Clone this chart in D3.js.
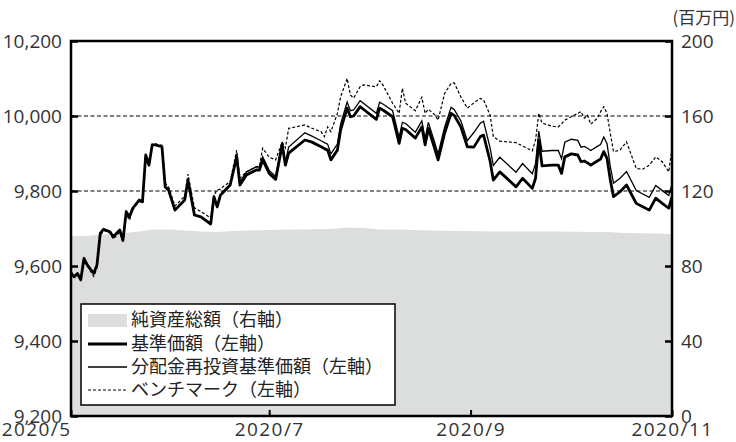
<!DOCTYPE html>
<html>
<head>
<meta charset="utf-8">
<script src="https://cdn.jsdelivr.net/npm/d3@7"></script>
<style>
  body { margin: 0; background: #fff; }
  svg { display: block; }
  .tick text { font-family: "Open Sans", sans-serif; font-size: 19px; fill: #333; }
  .xaxis .tick text { letter-spacing: 1.4px; }
</style>
</head>
<body>
<div id="chart"></div>
<script>
// dates of the price points
const dates = [
  "2020-05-01","2020-05-02","2020-05-03","2020-05-04","2020-05-05","2020-05-06","2020-05-08","2020-05-09","2020-05-10","2020-05-11",
  "2020-05-13","2020-05-14","2020-05-16","2020-05-17","2020-05-18","2020-05-19","2020-05-20","2020-05-22","2020-05-23","2020-05-24",
  "2020-05-25","2020-05-26","2020-05-27","2020-05-29","2020-05-30","2020-05-31","2020-06-02","2020-06-05","2020-06-06","2020-06-08",
  "2020-06-10","2020-06-13","2020-06-14","2020-06-15","2020-06-16","2020-06-17","2020-06-19","2020-06-21","2020-06-22","2020-06-24",
  "2020-06-27","2020-06-28","2020-06-29","2020-07-01","2020-07-03","2020-07-05","2020-07-06","2020-07-07","2020-07-12","2020-07-14",
  "2020-07-17","2020-07-18","2020-07-19","2020-07-20","2020-07-22","2020-07-23","2020-07-25","2020-07-26","2020-07-27","2020-07-29",
  "2020-07-30","2020-08-03","2020-08-04","2020-08-05","2020-08-08","2020-08-10","2020-08-11","2020-08-12","2020-08-15","2020-08-17",
  "2020-08-18","2020-08-19","2020-08-21","2020-08-22","2020-08-24","2020-08-26","2020-08-27","2020-08-29","2020-08-31","2020-09-02",
  "2020-09-04","2020-09-05","2020-09-07","2020-09-08","2020-09-10","2020-09-15","2020-09-17","2020-09-20","2020-09-21","2020-09-22",
  "2020-09-23","2020-09-26","2020-09-28","2020-09-29","2020-09-30","2020-10-02","2020-10-04","2020-10-05","2020-10-06","2020-10-07",
  "2020-10-08","2020-10-10","2020-10-11","2020-10-12","2020-10-13","2020-10-14","2020-10-15","2020-10-17","2020-10-19","2020-10-22",
  "2020-10-24","2020-10-26","2020-10-28","2020-10-30","2020-11-01","2020-11-02"
];
// 基準価額 (left axis)
const navValues = [
  9580,9571,9580,9563,9620,9603,9580,9603,9687,9698,
  9691,9678,9696,9669,9745,9731,9754,9776,9771,9896,
  9869,9923,9923,9918,9811,9803,9749,9776,9829,9736,
  9731,9712,9785,9758,9789,9798,9816,9891,9816,9843,
  9856,9856,9883,9847,9831,9923,9869,9901,9936,9931,
  9918,9913,9909,9883,9909,9963,10021,9998,10000,10025,
  10018,9991,10021,10016,9998,9927,9967,9964,9941,9971,
  9923,9967,9912,9883,9954,10007,10001,9971,9918,9917,
  9945,9949,9880,9829,9851,9811,9834,9807,9834,9935,
  9867,9869,9869,9847,9891,9899,9896,9878,9880,9875,
  9869,9880,9885,9905,9887,9830,9785,9798,9816,9767,
  9758,9749,9781,9767,9754,9784
];
// 分配金再投資基準価額 (left axis)
const reinvValues = [
  9580,9571,9580,9563,9620,9603,9580,9603,9687,9698,
  9691,9678,9696,9669,9745,9731,9754,9776,9771,9896,
  9869,9923,9923,9918,9811,9803,9749,9776,9829,9736,
  9731,9712,9785,9758,9789,9798,9816,9899,9824,9851,
  9864,9864,9891,9855,9839,9931,9877,9917,9955,9947,
  9934,9929,9925,9899,9925,9979,10037,10014,10016,10041,
  10034,10007,10037,10032,10014,9943,9983,9980,9957,9987,
  9939,9983,9928,9899,9970,10023,10017,9987,9934,9956,
  9981,9986,9915,9868,9890,9850,9873,9846,9873,9960,
  9906,9908,9908,9886,9930,9938,9935,9917,9919,9914,
  9908,9919,9924,9944,9926,9866,9821,9834,9852,9801,
  9792,9783,9815,9801,9788,9818
];
// ベンチマーク (left axis)
const benchValues = [
  9585,9575,9582,9568,9615,9600,9572,9595,9680,9695,
  9688,9672,9690,9662,9738,9722,9750,9772,9768,9890,
  9866,9925,9926,9922,9820,9812,9760,9786,9845,9755,
  9745,9728,9789,9803,9805,9813,9825,9909,9834,9851,
  9865,9866,9914,9890,9883,9931,9915,9967,9976,9968,
  9958,9945,9971,9958,10007,10051,10100,10056,10048,10078,
  10083,10078,10094,10083,10034,10007,10074,10034,10014,10050,
  10007,10018,10003,9989,10060,10087,10088,10051,10021,10035,
  10047,10043,10003,9945,9933,9929,9920,9907,9936,10007,
  9981,9973,9971,9979,9989,9998,10007,10012,9994,10002,
  9978,9994,10011,10025,10007,9954,9905,9909,9931,9860,
  9858,9869,9891,9878,9851,9914
];
// 純資産総額 (right axis, 百万円)
const assetDates = ["2020-05-01","2020-05-06","2020-05-11","2020-05-16","2020-05-21","2020-05-26","2020-05-31","2020-06-05","2020-06-10","2020-06-15",
  "2020-06-20","2020-06-25","2020-06-30","2020-07-10","2020-07-20","2020-07-25","2020-07-30","2020-08-04","2020-08-09","2020-08-19",
  "2020-08-29","2020-09-08","2020-09-18","2020-09-28","2020-10-08","2020-10-13","2020-10-18","2020-10-28","2020-11-02"];
const assetValues = [96.0,96.0,96.8,97.3,98.1,99.5,99.5,98.9,98.4,98.1,
  98.7,98.9,99.2,99.5,99.7,100.5,100.3,99.5,99.5,98.9,
  98.7,98.4,98.4,98.4,98.1,98.1,97.6,97.3,97.1];

const leftTicks = [9200, 9400, 9600, 9800, 10000, 10200];
const rightTicks = [0, 40, 80, 120, 160, 200];
const xTickDates = ["2020-05-01","2020-07-01","2020-09-01","2020-11-02"];
const xTickLabels = ["2020/5","2020/7","2020/9","2020/11"];
const legendLabels = ["純資産総額（右軸）","基準価額（左軸）","分配金再投資基準価額（左軸）","ベンチマーク（左軸）"];

var W = 736, H = 442;
var margin = {top:41, bottom:26, right:64, left:71};
var width = W - margin.left - margin.right;
var height = H - margin.top - margin.bottom;
var parse = d3.timeParse("%Y-%m-%d");

var svg = d3.select("#chart").append("svg")
  .attr("width", W).attr("height", H);
var g = svg.append("g")
  .attr("transform", "translate(" + margin.left + "," + margin.top + ")");

var x = d3.scaleTime()
  .domain([parse(dates[0]), parse(dates[dates.length-1])])
  .range([0, width]);
var yL = d3.scaleLinear().domain([9200, 10200]).range([height, 0]);
var yR = d3.scaleLinear().domain([0, 200]).range([height, 0]);

// gridlines
g.selectAll(".grid")
  .data(leftTicks.slice(1, -1))
  .enter().append("line")
  .attr("x1", 0).attr("x2", width)
  .attr("y1", d => yL(d)).attr("y2", d => yL(d))
  .style("stroke", "#555").style("stroke-width", 1.4)
  .style("stroke-dasharray", "4,2.5");

// net assets area
var assets = assetDates.map((d, i) => ({date: parse(d), v: assetValues[i]}));
g.append("path")
  .datum(assets)
  .attr("d", d3.area().x(d => x(d.date)).y0(height).y1(d => yR(d.v)))
  .style("fill", "#dcdddd");

var rows = dates.map((d, i) => ({date: parse(d), nav: navValues[i], re: reinvValues[i], bm: benchValues[i]}));
function line(key) {
  return d3.line().x(d => x(d.date)).y(d => yL(d[key]));
}
g.append("path").datum(rows).attr("d", line("bm"))
  .style("fill", "none").style("stroke", "#000").style("stroke-width", 1.2)
  .style("stroke-dasharray", "3,2");
g.append("path").datum(rows).attr("d", line("re"))
  .style("fill", "none").style("stroke", "#000").style("stroke-width", 1.3);
g.append("path").datum(rows).attr("d", line("nav"))
  .style("fill", "none").style("stroke", "#000").style("stroke-width", 2.8)
  .style("stroke-linejoin", "round");

// axes
g.append("g")
  .call(d3.axisLeft(yL).tickValues(leftTicks).tickSizeInner(-7).tickSizeOuter(0)
    .tickPadding(9).tickFormat(d3.format(",")))
  .call(a => a.select(".domain").remove())
  .call(a => a.selectAll(".tick line").style("stroke-width", 2.5));

g.append("g")
  .attr("transform", "translate(" + width + ",0)")
  .call(d3.axisRight(yR).tickValues(rightTicks).tickSizeInner(-7).tickSizeOuter(0).tickPadding(9))
  .call(a => a.select(".domain").remove())
  .call(a => a.selectAll(".tick line").style("stroke-width", 2.5));

var xAxis = g.append("g")
  .attr("class", "xaxis")
  .attr("transform", "translate(0," + height + ")")
  .call(d3.axisBottom(x).tickValues(xTickDates.map(parse)).tickSizeInner(-6).tickSizeOuter(0)
    .tickPadding(7).tickFormat((d, i) => xTickLabels[i]))
  .call(a => a.select(".domain").remove())
  .call(a => a.selectAll(".tick line").style("stroke-width", 2));
xAxis.selectAll(".tick text").filter((d, i) => i == 0)
  .attr("text-anchor", "end").attr("x", 0);

// frame
g.append("rect")
  .attr("width", width).attr("height", height)
  .style("fill", "none").style("stroke", "#000").style("stroke-width", 2.5);

svg.append("text")
  .attr("x", 735).attr("y", 24)
  .attr("text-anchor", "end")
  .style("font-family", "'Noto Sans CJK JP', sans-serif").style("font-size", "17px").style("fill", "#333")
  .text("(百万円)");

// legend
var lg = svg.append("g").attr("transform", "translate(81,304)");
lg.append("rect")
  .attr("width", 314).attr("height", 101)
  .style("fill", "#fff").style("stroke", "#000").style("stroke-width", 1.5);
var rowY = [16, 40, 63, 86];
lg.append("rect").attr("x", 7).attr("y", rowY[0]-6).attr("width", 39).attr("height", 13).style("fill", "#dcdddd");
lg.append("line").attr("x1", 7).attr("x2", 46).attr("y1", rowY[1]).attr("y2", rowY[1])
  .style("stroke", "#000").style("stroke-width", 2.8);
lg.append("line").attr("x1", 7).attr("x2", 46).attr("y1", rowY[2]).attr("y2", rowY[2])
  .style("stroke", "#000").style("stroke-width", 1.3);
lg.append("line").attr("x1", 7).attr("x2", 46).attr("y1", rowY[3]).attr("y2", rowY[3])
  .style("stroke", "#000").style("stroke-width", 1.2).style("stroke-dasharray", "3,2");
lg.selectAll("mylabels")
  .data(legendLabels)
  .enter().append("text")
  .attr("x", 50).attr("y", (d, i) => rowY[i])
  .attr("dy", "0.35em")
  .style("font-family", "'Noto Sans CJK JP', sans-serif")
  .style("font-size", "18px")
  .style("fill", "#222")
  .text(d => d);
</script>
</body>
</html>
